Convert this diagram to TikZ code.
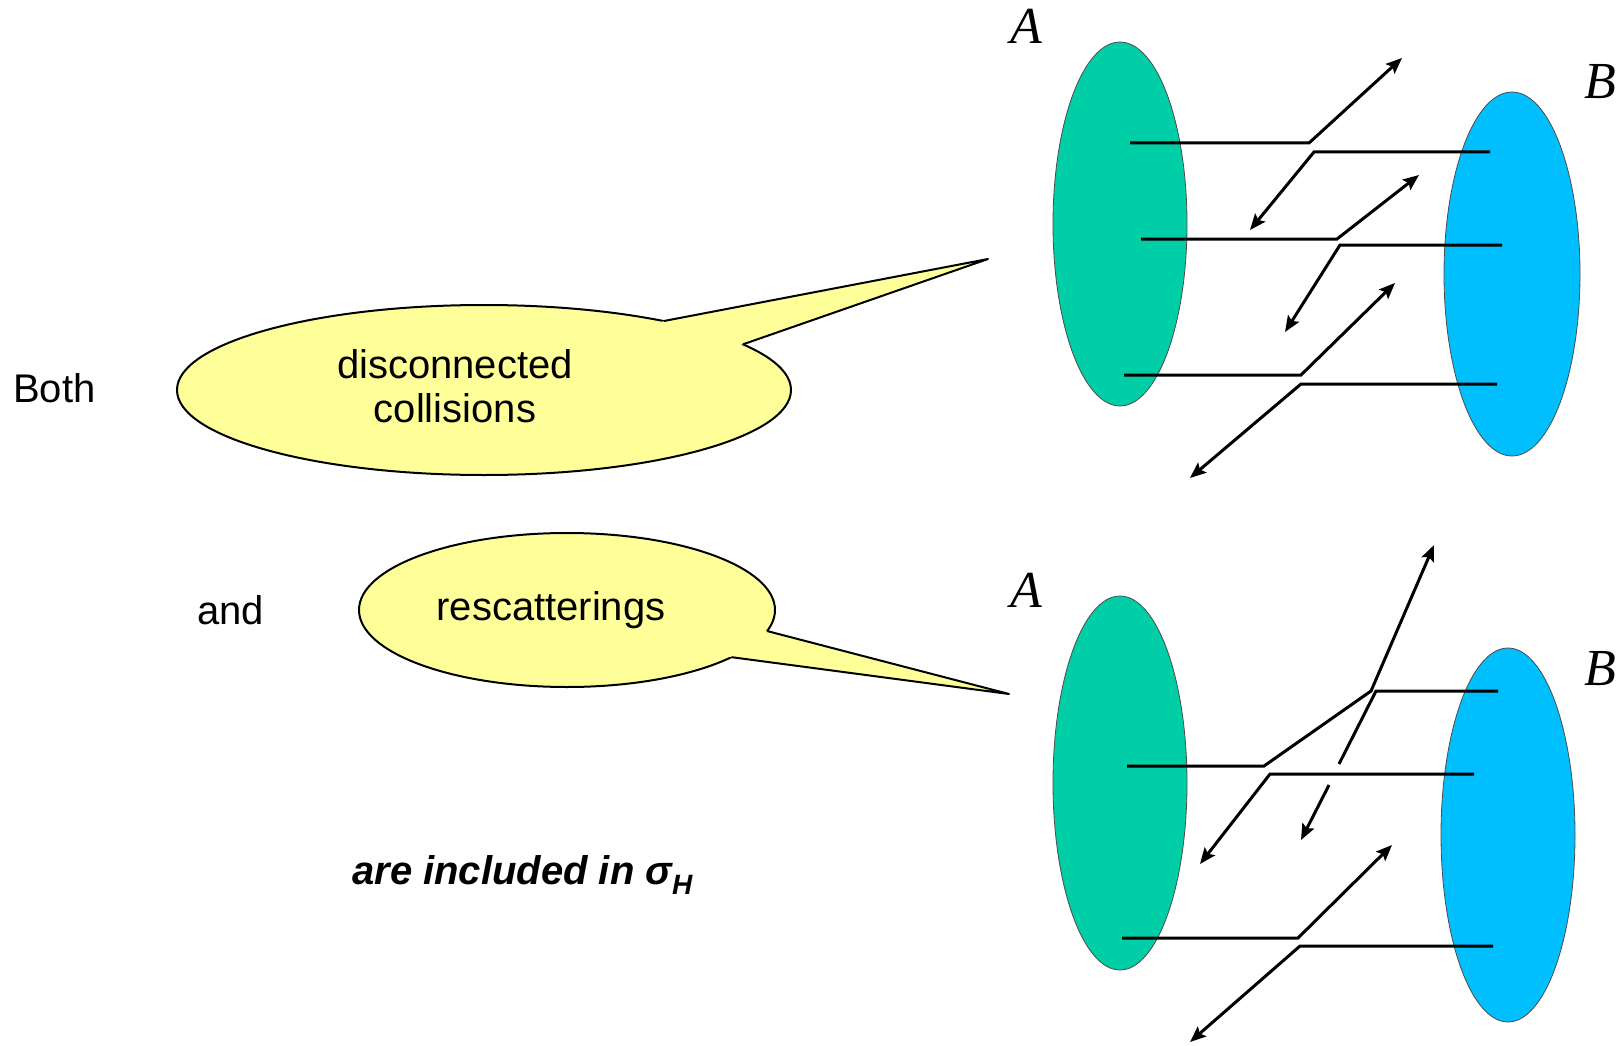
\documentclass[tikz,border=0pt]{standalone}
\usepackage{fontspec}
\setmainfont{Liberation Sans}
\newfontfamily\labfont{Liberation Serif}
\usetikzlibrary{shapes.geometric,arrows.meta}
\definecolor{grA}{RGB}{0,206,166}
\definecolor{blB}{RGB}{0,191,255}
\definecolor{bub}{RGB}{255,255,153}
\begin{document}
\begin{tikzpicture}[x=1pt,y=-1pt,
  seg/.style={line width=3pt},
  arr/.style={line width=3pt,line join=miter,-{Stealth[length=16pt,width=13pt,inset=3pt]}},
  disk/.style={ellipse, draw=black!70, line width=0.8pt, inner sep=0pt, outer sep=0pt},
  bubble/.style={ellipse, draw=black, line width=2pt, fill=bub, inner sep=0pt, outer sep=0pt},
  tail/.style={line width=2pt, line join=round},
  txt/.style={font=\fontsize{40}{44}\selectfont, inner sep=0pt, align=center},
  lab/.style={font=\labfont\itshape\fontsize{52}{52}\selectfont, inner sep=0pt}]
\useasboundingbox (0,0) rectangle (1622,1046);

% ---------- top diagram ----------
\node[disk, fill=grA, minimum width=134pt, minimum height=364pt] (A1) at (1120,224) {};
\node[disk, fill=blB, minimum width=136pt, minimum height=364pt] (B1) at (1512,274) {};
\node[lab] (lA1) at (1026,26) {A};
\node[lab] (lB1) at (1600,82) {B};

\coordinate (t1a) at (1130,143); \coordinate (t1b) at (1309,143); \coordinate (t1c) at (1402,58);
\coordinate (t2a) at (1490,152); \coordinate (t2b) at (1314,152); \coordinate (t2c) at (1250,230);
\coordinate (t3a) at (1141,239); \coordinate (t3b) at (1337,239); \coordinate (t3c) at (1419,175);
\coordinate (t4a) at (1502,245); \coordinate (t4b) at (1340,245); \coordinate (t4c) at (1285,332);
\coordinate (t5a) at (1124,375); \coordinate (t5b) at (1301,375); \coordinate (t5c) at (1395,283);
\coordinate (t6a) at (1497,384); \coordinate (t6b) at (1301,384); \coordinate (t6c) at (1190,478);
\draw[arr] (t1a) -- (t1b) -- (t1c);
\draw[arr] (t2a) -- (t2b) -- (t2c);
\draw[arr] (t3a) -- (t3b) -- (t3c);
\draw[arr] (t4a) -- (t4b) -- (t4c);
\draw[arr] (t5a) -- (t5b) -- (t5c);
\draw[arr] (t6a) -- (t6b) -- (t6c);

% ---------- bottom diagram ----------
\node[disk, fill=grA, minimum width=134pt, minimum height=374pt] (A2) at (1120,783) {};
\node[disk, fill=blB, minimum width=134pt, minimum height=374pt] (B2) at (1508,835) {};
\node[lab] (lA2) at (1026,590) {A};
\node[lab] (lB2) at (1600,669) {B};

\coordinate (b1a) at (1127,766); \coordinate (b1b) at (1264,766); \coordinate (b1c) at (1371,691); \coordinate (b1d) at (1434,545);
\coordinate (b2a) at (1498,691); \coordinate (b2b) at (1376,691); \coordinate (b2c) at (1339,764);
\coordinate (b2d) at (1329,785); \coordinate (b2e) at (1301,840);
\coordinate (b3a) at (1474,774); \coordinate (b3b) at (1270,774); \coordinate (b3c) at (1200,864);
\coordinate (b4a) at (1122,938); \coordinate (b4b) at (1298,938); \coordinate (b4c) at (1392,845);
\coordinate (b5a) at (1493,946); \coordinate (b5b) at (1300,946); \coordinate (b5c) at (1190,1042);
\draw[arr] (b1a) -- (b1b) -- (b1c) -- (b1d);
\draw[seg, line join=miter] (b2a) -- (b2b) -- (b2c);
\draw[arr] (b2d) -- (b2e);
\draw[arr] (b3a) -- (b3b) -- (b3c);
\draw[arr] (b4a) -- (b4b) -- (b4c);
\draw[arr] (b5a) -- (b5b) -- (b5c);

% ---------- speech bubbles ----------
\node[bubble, minimum width=614pt, minimum height=170pt] (bub1) at (484,390) {};
\coordinate (tip1) at (988,259);
\fill[bub] (bub1.21) -- (tip1) -- (bub1.10) -- (bub1.center) -- cycle;
\draw[tail] (bub1.21) -- (tip1) -- (bub1.10);

\node[bubble, minimum width=416pt, minimum height=154pt] (bub2) at (567,610) {};
\coordinate (tip2) at (1009,694);
\fill[bub] (bub2.-6) -- (tip2) -- (bub2.-16) -- (bub2.center) -- cycle;
\draw[tail] (bub2.-6) -- (tip2) -- (bub2.-16);

% ---------- texts ----------
\node[txt, anchor=west] (both) at (13,388) {Both};
\node[txt, anchor=west] (and) at (197,610) {and};
\node[txt] (dc) at (455,386) {disconnected\\collisions};
\node[txt] (rs) at (551,610) {rescatterings};
\node[txt, font=\fontsize{40}{44}\selectfont\bfseries\itshape, anchor=base west] (incl) at (352,884)
  {are included in σ\raisebox{-10pt}{\fontsize{28}{28}\selectfont H}};
\end{tikzpicture}
\end{document}
